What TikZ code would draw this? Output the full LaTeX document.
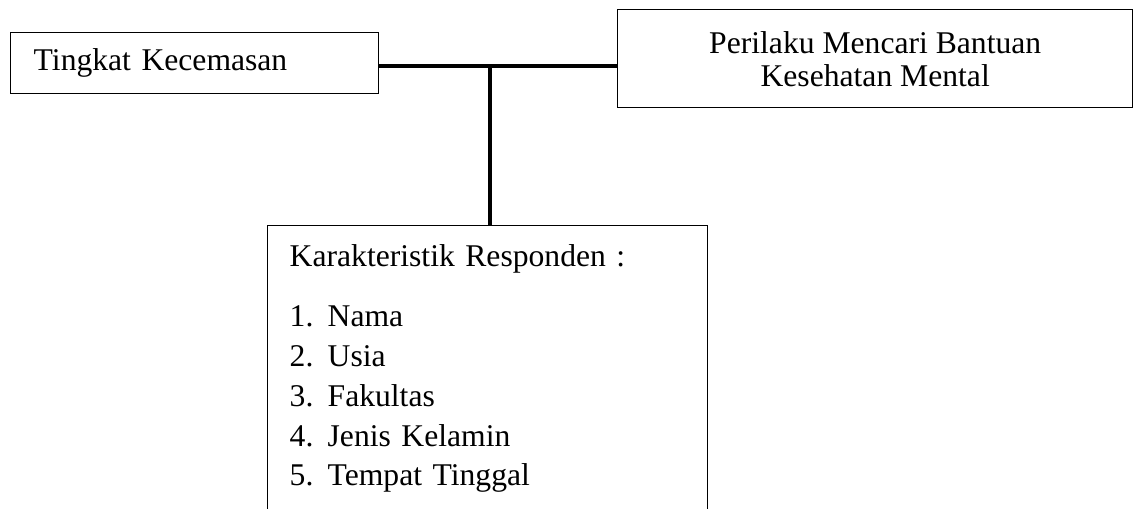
\documentclass[tikz,border=0pt]{standalone}
\usepackage{fontspec}
\setmainfont{Liberation Serif}
\usetikzlibrary{positioning,calc}
\newcommand{\itm}[2]{\makebox[21.6pt][l]{#1.}#2}

\begin{document}
\begin{tikzpicture}[
  x=0.02cm, y=-0.02cm,
  box/.style={draw, line width=0.85pt, inner sep=0pt, anchor=north west,
              font=\fontsize{18}{22.6}\selectfont},
  link/.style={line width=2pt}
]
\clip (0,0) rectangle (1134,508);

\node[box, minimum width=7.36cm, minimum height=1.22cm, text width=6.44cm,
      inner xsep=0.46cm, align=left] (cemas) at (10,32) {Tingkat Kecemasan};
\node[box, minimum width=10.3cm, minimum height=1.96cm, align=center,
      font=\fontsize{18}{18.8}\selectfont] (perilaku) at (617,9)
      {Perilaku Mencari Bantuan\\Kesehatan Mental};
\node[box, text width=7.92cm, inner xsep=0.44cm, inner ysep=0.37cm,
      align=left] (karakter) at (267,225)
      {Karakteristik Responden :\\[0.42cm]
       \itm{1}{Nama}\\ \itm{2}{Usia}\\ \itm{3}{Fakultas}\\
       \itm{4}{Jenis Kelamin}\\ \itm{5}{Tempat Tinggal}};

\coordinate (junc) at (490,66);
\draw[link] (cemas.east |- junc) -- (perilaku.west |- junc);
\draw[link] (junc) -- (karakter.north -| junc);
\end{tikzpicture}
\end{document}
